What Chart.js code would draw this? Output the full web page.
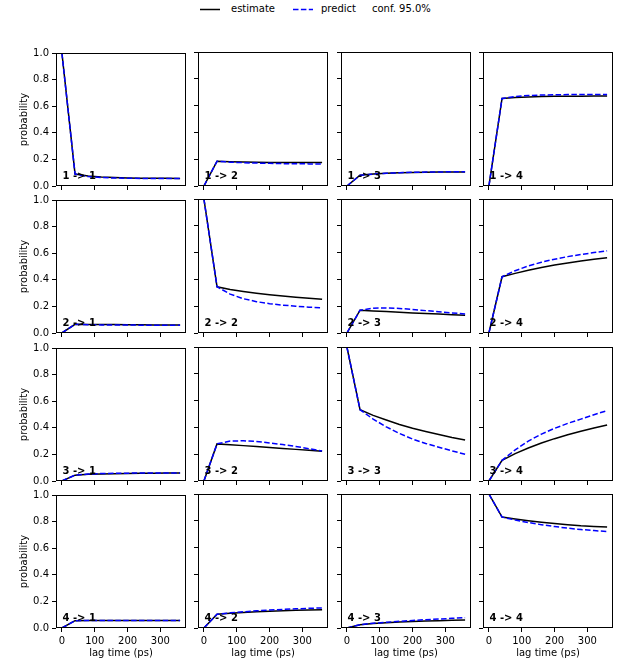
<!DOCTYPE html>
<html>
<head>
<meta charset="utf-8">
<script src="https://cdn.jsdelivr.net/npm/chart.js@4.4.0/dist/chart.umd.min.js"></script>
<style>
  body { margin: 0; background: #fff; width: 619px; height: 669px; position: relative; overflow: hidden; font-family: 'DejaVu Sans', sans-serif; }
  canvas { position: absolute; }
  .leg { position: absolute; top: 3px; font-size: 10px; line-height: 12px; color: #000; white-space: nowrap; }
</style>
</head>
<body>
<svg style="position:absolute;left:0;top:0" width="619" height="20">
  <line x1="200" y1="9.5" x2="220" y2="9.5" stroke="#000" stroke-width="1.5"/>
  <line x1="293" y1="9.5" x2="313" y2="9.5" stroke="#0000ff" stroke-width="1.5" stroke-dasharray="5.5 2.4"/>
</svg>
<div class="leg" style="left:231px">estimate</div>
<div class="leg" style="left:321px">predict</div>
<div class="leg" style="left:372px">conf. 95.0%</div>

<script>
// lag times (ps) and axis ticks
const lagTimes = [0, 40, 80, 120, 160, 200, 240, 280, 320, 360];
const xTicks = [0, 100, 200, 300];
const yTicks = [0, 0.2, 0.4, 0.6, 0.8, 1.0];

// transition probabilities, estimate vs predict
const est_1_1 = [1.0, 0.09, 0.076, 0.068, 0.064, 0.061, 0.059, 0.058, 0.058, 0.057];
const pred_1_1 = [1.0, 0.09, 0.071, 0.064, 0.060, 0.058, 0.057, 0.057, 0.057, 0.057];
const est_1_2 = [0, 0.185, 0.181, 0.179, 0.177, 0.176, 0.176, 0.175, 0.175, 0.175];
const pred_1_2 = [0, 0.185, 0.178, 0.174, 0.171, 0.169, 0.167, 0.166, 0.165, 0.165];
const est_1_3 = [0, 0.08, 0.09, 0.095, 0.099, 0.101, 0.103, 0.104, 0.105, 0.105];
const pred_1_3 = [0, 0.08, 0.089, 0.095, 0.099, 0.102, 0.104, 0.105, 0.106, 0.106];
const est_1_4 = [0, 0.653, 0.661, 0.665, 0.667, 0.669, 0.670, 0.670, 0.671, 0.671];
const pred_1_4 = [0, 0.653, 0.668, 0.675, 0.679, 0.681, 0.682, 0.683, 0.683, 0.683];

const est_2_1 = [0, 0.065, 0.064, 0.063, 0.063, 0.062, 0.062, 0.061, 0.061, 0.061];
const pred_2_1 = [0, 0.065, 0.062, 0.061, 0.060, 0.060, 0.059, 0.059, 0.059, 0.058];
const est_2_2 = [1.0, 0.345, 0.325, 0.31, 0.297, 0.286, 0.276, 0.267, 0.259, 0.252];
const pred_2_2 = [1.0, 0.345, 0.29, 0.256, 0.234, 0.219, 0.208, 0.2, 0.193, 0.188];
const est_2_3 = [0, 0.17, 0.165, 0.16, 0.155, 0.15, 0.145, 0.141, 0.136, 0.132];
const pred_2_3 = [0, 0.17, 0.185, 0.187, 0.183, 0.176, 0.167, 0.158, 0.15, 0.142];
const est_2_4 = [0, 0.42, 0.445, 0.468, 0.489, 0.507, 0.523, 0.538, 0.55, 0.561];
const pred_2_4 = [0, 0.42, 0.465, 0.5, 0.528, 0.551, 0.57, 0.586, 0.6, 0.613];

const est_3_1 = [0, 0.044, 0.05, 0.053, 0.055, 0.057, 0.058, 0.059, 0.06, 0.06];
const pred_3_1 = [0, 0.044, 0.052, 0.056, 0.058, 0.059, 0.06, 0.06, 0.061, 0.061];
const est_3_2 = [0, 0.277, 0.271, 0.264, 0.257, 0.25, 0.243, 0.236, 0.229, 0.222];
const pred_3_2 = [0, 0.277, 0.298, 0.3, 0.295, 0.284, 0.272, 0.258, 0.241, 0.224];
const est_3_3 = [1.0, 0.532, 0.49, 0.455, 0.422, 0.393, 0.37, 0.347, 0.325, 0.306];
const pred_3_3 = [1.0, 0.532, 0.462, 0.404, 0.355, 0.313, 0.28, 0.252, 0.225, 0.199];
const est_3_4 = [0, 0.154, 0.204, 0.246, 0.283, 0.316, 0.345, 0.371, 0.395, 0.418];
const pred_3_4 = [0, 0.154, 0.232, 0.298, 0.35, 0.393, 0.43, 0.462, 0.495, 0.525];

const est_4_1 = [0, 0.055, 0.057, 0.057, 0.057, 0.057, 0.057, 0.057, 0.057, 0.057];
const pred_4_1 = [0, 0.055, 0.056, 0.056, 0.056, 0.056, 0.056, 0.056, 0.056, 0.056];
const est_4_2 = [0, 0.102, 0.11, 0.116, 0.121, 0.125, 0.129, 0.132, 0.135, 0.137];
const pred_4_2 = [0, 0.102, 0.113, 0.121, 0.128, 0.134, 0.139, 0.143, 0.147, 0.15];
const est_4_3 = [0, 0.025, 0.033, 0.039, 0.044, 0.048, 0.052, 0.055, 0.058, 0.06];
const pred_4_3 = [0, 0.025, 0.035, 0.043, 0.05, 0.056, 0.062, 0.067, 0.072, 0.077];
const est_4_4 = [1.0, 0.828, 0.814, 0.801, 0.79, 0.78, 0.771, 0.763, 0.758, 0.753];
const pred_4_4 = [1.0, 0.828, 0.806, 0.787, 0.771, 0.757, 0.745, 0.735, 0.727, 0.72];

const estimates = [
    [est_1_1, est_1_2, est_1_3, est_1_4],
    [est_2_1, est_2_2, est_2_3, est_2_4],
    [est_3_1, est_3_2, est_3_3, est_3_4],
    [est_4_1, est_4_2, est_4_3, est_4_4]
];
const predictions = [
    [pred_1_1, pred_1_2, pred_1_3, pred_1_4],
    [pred_2_1, pred_2_2, pred_2_3, pred_2_4],
    [pred_3_1, pred_3_2, pred_3_3, pred_3_4],
    [pred_4_1, pred_4_2, pred_4_3, pred_4_4]
];

// panel placement (plot area corners in page pixels)
const colLeft = [56, 198, 341, 483];
const rowTop = [52, 199, 347, 494];
const yAxisW = 50, padTop = 8, padRight = 8, xAxisH = 40;
const plotW = 130, plotH = 134;

Chart.defaults.font.family = "'DejaVu Sans', sans-serif";
Chart.defaults.font.size = 10;
Chart.defaults.color = '#000';

// box round each panel plus the "i -> j" label
const framePlugin = {
    id: 'frame',
    afterDraw(chart, args, opts) {
        const { ctx, chartArea: a } = chart;
        ctx.save();
        ctx.strokeStyle = '#000';
        ctx.lineWidth = 1;
        ctx.strokeRect(a.left + 0.5, a.top + 0.5, a.right - a.left - 1, a.bottom - a.top - 1);
        ctx.font = "bold 10px 'DejaVu Sans', sans-serif";
        ctx.fillStyle = '#000';
        ctx.textBaseline = 'alphabetic';
        ctx.fillText(opts.label, a.left + 0.05 * (a.right - a.left), a.bottom - 0.05 * (a.bottom - a.top));
        ctx.restore();
    }
};

function toPoints(values) {
    return lagTimes.map((t, i) => ({ x: t, y: values[i] }));
}

function createPanel(r, c) {
    const canvas = document.createElement('canvas');
    const w = yAxisW + plotW + padRight;
    const h = padTop + plotH + xAxisH;
    canvas.width = w;
    canvas.height = h;
    canvas.style.width = w + 'px';
    canvas.style.height = h + 'px';
    canvas.style.left = (colLeft[c] - yAxisW) + 'px';
    canvas.style.top = (rowTop[r] - padTop) + 'px';
    document.body.appendChild(canvas);

    new Chart(canvas, {
        type: 'line',
        data: {
            datasets: [{
                label: 'estimate',
                data: toPoints(estimates[r][c]),
                borderColor: '#000000',
                borderWidth: 1.5,
                pointRadius: 0,
                tension: 0,
                order: 1
            }, {
                label: 'predict',
                data: toPoints(predictions[r][c]),
                borderColor: '#0000ff',
                borderWidth: 1.5,
                borderDash: [5.5, 2.4],
                pointRadius: 0,
                tension: 0,
                order: 0
            }]
        },
        options: {
            responsive: false,
            animation: false,
            events: [],
            layout: {
                padding: { top: padTop, right: padRight, left: 0, bottom: 0 }
            },
            plugins: {
                legend: { display: false },
                tooltip: { enabled: false },
                frame: { label: `${r + 1} -> ${c + 1}` }
            },
            scales: {
                x: {
                    type: 'linear',
                    min: -18,
                    max: 378,
                    afterBuildTicks: s => { s.ticks = xTicks.map(v => ({ value: v })); },
                    afterFit: s => { s.height = xAxisH; },
                    border: { display: false },
                    grid: {
                        drawOnChartArea: false,
                        drawTicks: true,
                        tickLength: 4,
                        color: '#000'
                    },
                    ticks: {
                        display: r === 3,
                        padding: 3,
                        maxRotation: 0,
                        autoSkip: false,
                        callback: v => String(v)
                    },
                    title: {
                        display: r === 3,
                        text: 'lag time (ps)',
                        padding: { top: 0, bottom: 9 }
                    }
                },
                y: {
                    min: 0,
                    max: 1,
                    afterBuildTicks: s => { s.ticks = yTicks.map(v => ({ value: v })); },
                    afterFit: s => { s.width = yAxisW; },
                    border: { display: false },
                    grid: {
                        drawOnChartArea: false,
                        drawTicks: true,
                        tickLength: 4,
                        color: '#000'
                    },
                    ticks: {
                        display: c === 0,
                        padding: 3,
                        callback: v => v.toFixed(1)
                    },
                    title: {
                        display: c === 0,
                        text: 'probability',
                        padding: { top: 12, bottom: 0 }
                    }
                }
            }
        },
        plugins: [framePlugin]
    });
}

for (let r = 0; r < 4; r++) {
    for (let c = 0; c < 4; c++) {
        createPanel(r, c);
    }
}
</script>
</body>
</html>
